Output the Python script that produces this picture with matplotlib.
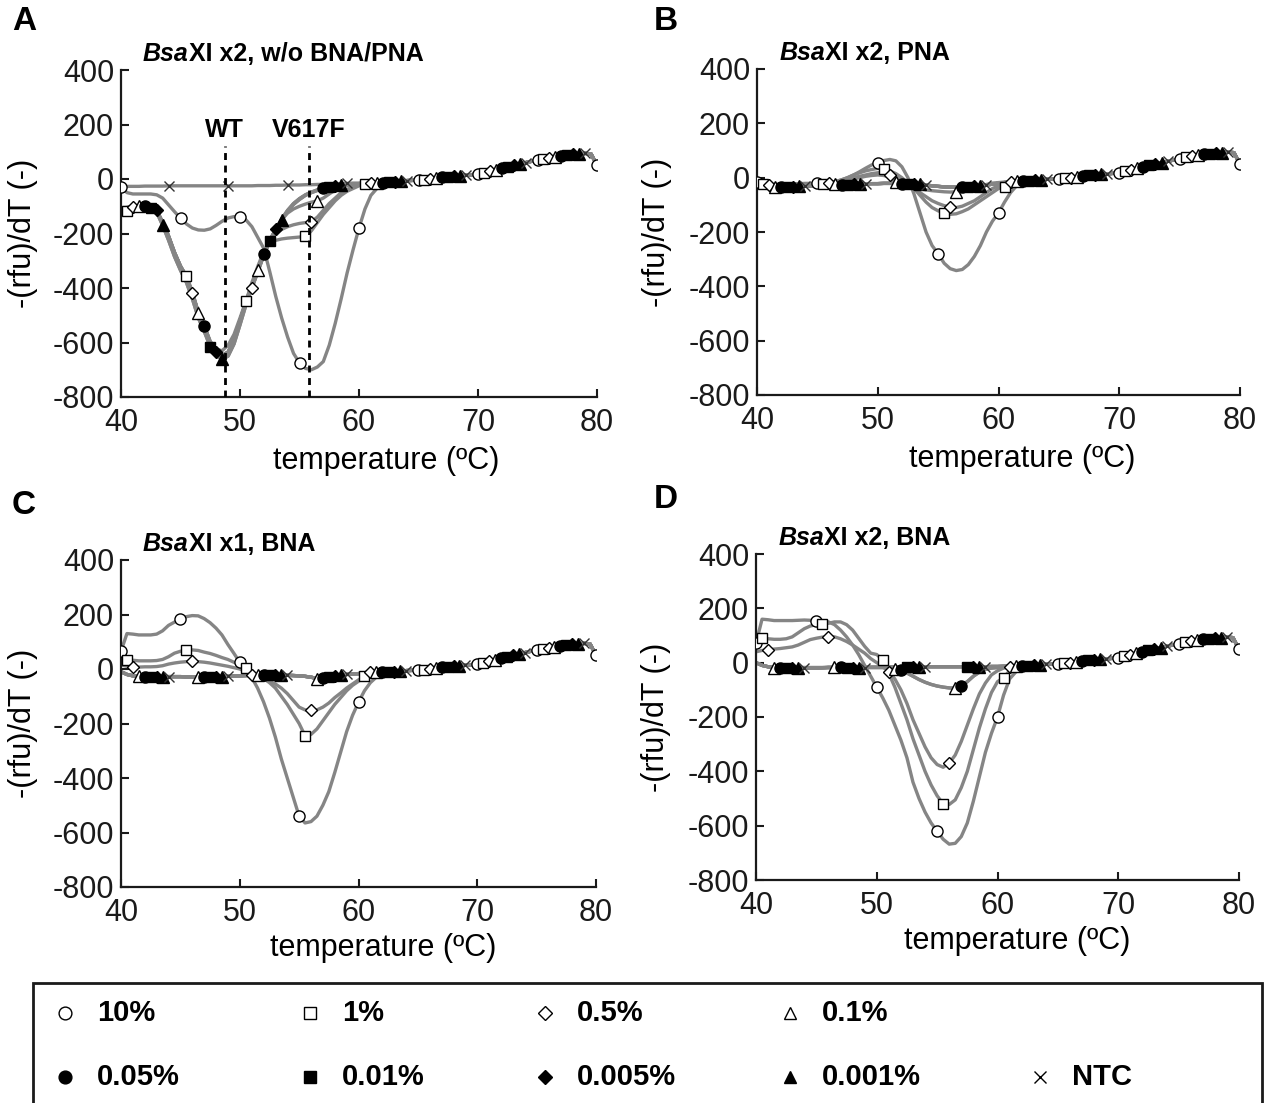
import numpy as np
import matplotlib
matplotlib.use("Agg")
import matplotlib.pyplot as plt
from matplotlib.lines import Line2D
from matplotlib.patches import Rectangle

plt.rcParams["font.family"] = ["Liberation Sans", "DejaVu Sans"]
plt.rcParams["axes.unicode_minus"] = False

# melting temperature grid, 0.5 degC steps
TEMP = np.arange(40, 80.01, 0.5)

LABELS = ["10%", "1%", "0.5%", "0.1%", "0.05%", "0.01%", "0.005%", "0.001%", "NTC"]

# common part of every curve, 62.5 .. 80 degC
TAIL = [-12, -10, -8, -6, -5, -4, -2, 0, 3, 6,
        8, 10, 12, 14, 16, 19, 23, 28, 34, 40,
        45, 50, 55, 60, 65, 70, 75, 78, 82, 86,
        88, 90, 92, 94, 92, 50]

# --- A: BsaXI x2, w/o BNA/PNA (40 .. 62 degC) ---
A_10 = [-28, -50, -55, -55, -55, -55, -58, -70, -95, -120,
        -144, -165, -180, -187, -188, -183, -170, -155, -143, -138,
        -140, -150, -175, -215, -255, -340, -430, -510, -580, -640,
        -675, -695, -700, -690, -670, -610, -530, -440, -345, -260,
        -180, -110, -60, -35, -20] + TAIL
A_1 = [-117, -117, -115, -112, -108, -106, -115, -160, -210, -270,
       -320, -355, -415, -490, -540, -595, -625, -630, -610, -570,
       -510, -448, -380, -320, -265, -235, -225, -220, -217, -215,
       -213, -211, -190, -160, -130, -105, -80, -60, -45, -35,
       -25, -20, -17, -15, -13] + TAIL
A_05 = [-105, -104, -104, -103, -102, -103, -115, -160, -210, -270,
        -320, -360, -420, -490, -540, -600, -635, -645, -635, -590,
        -520, -450, -400, -340, -280, -230, -200, -185, -175, -168,
        -163, -160, -157, -140, -115, -90, -70, -50, -38, -30,
        -22, -18, -16, -14, -13] + TAIL
A_01 = [-110, -105, -102, -100, -100, -102, -115, -160, -210, -270,
        -320, -360, -420, -490, -540, -600, -635, -650, -635, -590,
        -520, -450, -390, -335, -275, -225, -185, -150, -125, -110,
        -100, -92, -85, -80, -70, -55, -40, -30, -24, -20,
        -17, -16, -15, -14, -13] + TAIL
A_LOW = [-110, -105, -102, -100, -100, -102, -115, -160, -210, -270,
         -320, -360, -420, -490, -540, -600, -635, -650, -635, -590,
         -520, -450, -390, -335, -275, -225, -185, -147, -115, -90,
         -72, -58, -48, -40, -34, -29, -25, -22, -20, -18,
         -17, -16, -15, -14, -13] + TAIL
A_LOW2 = [-112, -108, -105, -104, -104, -106, -122, -170, -225, -285,
          -335, -380, -440, -510, -560, -615, -648, -662, -650, -605,
          -535, -462, -398, -340, -278, -228, -188, -150, -118, -93,
          -75, -60, -50, -42, -35, -30, -26, -23, -21, -19,
          -17, -16, -15, -14, -13] + TAIL
A_NTC = [-28, -27, -27, -27, -26, -26, -26, -26, -25, -25,
         -25, -25, -25, -25, -25, -25, -25, -25, -25, -25,
         -25, -25, -25, -24, -24, -24, -23, -23, -22, -22,
         -22, -21, -21, -20, -20, -19, -18, -17, -16, -15,
         -15, -14, -14, -13, -13] + TAIL

# --- B: BsaXI x2, PNA ---
B_10 = [-15, -22, -25, -25, -24, -23, -22, -22, -21, -21,
        -21, -20, -18, -14, -8, 0, 10, 22, 35, 47,
        55, 63, 67, 62, 40, 0, -60, -130, -200, -250,
        -280, -315, -335, -342, -338, -320, -290, -250, -200, -160,
        -130, -90, -55, -30, -18] + TAIL
B_1 = [-20, -22, -28, -30, -30, -30, -30, -29, -28, -27,
       -25, -23, -20, -15, -8, 0, 10, 18, 25, 30,
       34, 32, 25, 15, 0, -20, -40, -65, -90, -110,
       -122, -131, -135, -133, -125, -115, -100, -85, -70, -55,
       -40, -33, -25, -20, -15] + TAIL
B_05 = [-20, -24, -28, -30, -30, -30, -29, -28, -27, -26,
        -25, -24, -20, -15, -10, -5, 0, 5, 10, 15,
        18, 20, 10, 0, -10, -25, -40, -55, -70, -85,
        -95, -103, -108, -110, -105, -95, -85, -70, -55, -40,
        -30, -20, -15, -13, -12] + TAIL
B_01 = [-22, -28, -32, -33, -33, -33, -32, -31, -30, -29,
        -28, -27, -25, -22, -18, -12, -5, 0, 5, 8,
        10, 8, 2, -15, -22, -28, -35, -40, -45, -48,
        -50, -52, -53, -52, -50, -45, -38, -30, -25, -20,
        -18, -16, -14, -13, -12] + TAIL
B_LOW = [-22, -28, -33, -34, -34, -34, -33, -32, -31, -30,
         -29, -28, -27, -27, -26, -26, -25, -24, -23, -22,
         -22, -21, -21, -21, -22, -22, -23, -25, -27, -30,
         -32, -34, -35, -35, -35, -34, -32, -30, -27, -24,
         -21, -18, -16, -14, -12] + TAIL

# --- C: BsaXI x1, BNA ---
C_10 = [65, 130, 128, 125, 125, 125, 128, 140, 160, 172,
        182, 192, 196, 195, 185, 170, 150, 125, 90, 58,
        25, -5, -30, -70, -120, -180, -250, -330, -400, -470,
        -540, -565, -560, -540, -500, -450, -380, -305, -230, -170,
        -122, -80, -50, -30, -20] + TAIL
C_1 = [40, 34, 32, 30, 30, 30, 31, 35, 45, 58,
       65, 69, 70, 68, 62, 57, 50, 42, 35, 25,
       15, 4, -15, -25, -35, -50, -70, -100, -130, -165,
       -200, -245, -240, -220, -190, -160, -130, -105, -80, -60,
       -45, -27, -22, -18, -15] + TAIL
C_05 = [15, 10, 7, 7, 8, 8, 9, 12, 18, 22,
        25, 27, 28, 27, 25, 22, 18, 14, 10, 5,
        0, -10, -23, -30, -35, -45, -55, -70, -90, -115,
        -140, -150, -152, -150, -140, -125, -105, -88, -70, -55,
        -40, -28, -10, -10, -10] + TAIL
C_LOW = [-10, -20, -25, -27, -28, -28, -28, -28, -28, -28,
         -28, -29, -30, -30, -30, -30, -29, -28, -27, -26,
         -25, -24, -23, -22, -22, -22, -22, -22, -23, -24,
         -25, -27, -30, -35, -32, -28, -25, -22, -20, -18,
         -17, -15, -13, -12, -12] + TAIL

# --- D: BsaXI x2, BNA ---
D_10 = [71, 160, 158, 155, 155, 155, 155, 156, 157, 156,
        153, 155, 150, 140, 120, 95, 65, 30, -10, -50,
        -90, -130, -175, -230, -285, -350, -440, -500, -550, -590,
        -620, -650, -668, -665, -640, -590, -510, -420, -330, -260,
        -200, -120, -60, -35, -20] + TAIL
D_1 = [85, 90, 88, 86, 86, 88, 95, 110, 125, 135,
       140, 141, 145, 150, 150, 140, 120, 90, 60, 35,
       30, 10, -40, -90, -150, -210, -280, -340, -400, -450,
       -490, -520, -522, -505, -460, -400, -320, -240, -170, -110,
       -70, -55, -30, -20, -15] + TAIL
D_05 = [40, 45, 47, 50, 52, 55, 58, 65, 75, 85,
        90, 94, 96, 95, 88, 78, 65, 50, 35, 15,
        0, -15, -33, -60, -100, -150, -210, -260, -310, -350,
        -375, -385, -370, -340, -290, -230, -170, -115, -75, -45,
        -30, -20, -15, -13, -12] + TAIL
D_MID = [0, -10, -15, -18, -18, -18, -18, -18, -18, -18,
         -18, -18, -17, -17, -17, -17, -17, -17, -17, -18,
         -18, -18, -19, -22, -28, -38, -50, -62, -72, -80,
         -86, -90, -93, -94, -85, -70, -50, -35, -25, -20,
         -18, -16, -14, -13, -12] + TAIL
D_LOW = [0, -10, -15, -18, -20, -21, -21, -21, -20, -20,
         -20, -19, -18, -18, -18, -18, -18, -18, -18, -17,
         -17, -16, -16, -15, -15, -15, -15, -15, -15, -15,
         -15, -15, -15, -15, -15, -15, -15, -15, -15, -14,
         -14, -13, -13, -12, -12] + TAIL

PANELS = [
    ("A", "XI x2, w/o BNA/PNA", [A_10, A_1, A_05, A_01, A_LOW, A_LOW2, A_LOW, A_LOW2, A_NTC]),
    ("B", "XI x2, PNA", [B_10, B_1, B_05, B_01, B_LOW, B_LOW, B_LOW, B_LOW, B_LOW]),
    ("C", "XI x1, BNA", [C_10, C_1, C_05, C_LOW, C_LOW, C_LOW, C_LOW, C_LOW, C_LOW]),
    ("D", "XI x2, BNA", [D_10, D_1, D_05, D_MID, D_MID, D_LOW, D_LOW, D_LOW, D_LOW]),
]

# WT / V617F melting peaks marked in panel A
PEAKS = [("WT", 48.7), ("V617F", 55.8)]

# marker style per series: (marker, face, size)
MARKERS = [("o", "white", 8), ("s", "white", 7.5), ("D", "white", 6.5), ("^", "white", 8),
           ("o", "black", 8), ("s", "black", 7.5), ("D", "black", 6.5), ("^", "black", 8),
           ("x", "none", 7)]

LINE_GREY = "#858585"

# axes rectangles in pixels (left, top, right, bottom) of a 1270x1103 figure
W, H = 1270, 1103
BOXES = {"A": (121, 70, 597, 397), "B": (757, 69, 1240, 395),
         "C": (121, 560, 596, 887), "D": (756, 554, 1239, 880)}
LETTER_POS = {"A": (12, 22), "B": (654, 22), "C": (12, 505), "D": (654, 500)}
XLABEL_POS = {"A": (0.557, -0.15), "B": (0.55, -0.15), "C": (0.553, -0.14), "D": (0.54, -0.142)}

fig = plt.figure(figsize=(W / 100, H / 100), dpi=100)

for letter, title_rest, series in PANELS:
    l, t, r, b = BOXES[letter]
    ax = fig.add_axes([l / W, 1 - b / H, (r - l) / W, (b - t) / H])

    for y in series:
        ax.plot(TEMP, y, color=LINE_GREY, lw=2.4, zorder=2, solid_capstyle="round")
    for k, y in enumerate(series):
        m, face, ms = MARKERS[k]
        ax.plot(TEMP, y, linestyle="none", marker=m, markersize=ms,
                markerfacecolor=face, markeredgecolor="black" if m != "x" else "#333333",
                markeredgewidth=1.0, markevery=(k, 10), zorder=3 + k * 0.01)

    if letter == "A":
        for name, tm in PEAKS:
            ax.plot([tm, tm], [-800, 120], color="black", lw=2, ls=(0, (2.5, 2)), zorder=4)
            ax.text(tm, 135, name, ha="center", va="bottom", fontsize=18, fontweight="bold")

    ax.set_xlim(40, 80)
    ax.set_ylim(-800, 400)
    ax.set_xticks([40, 50, 60, 70, 80])
    ax.set_yticks(range(-800, 401, 200))
    for side in ("top", "right"):
        ax.spines[side].set_visible(False)
    for side in ("left", "bottom"):
        ax.spines[side].set_linewidth(1.6)
        ax.spines[side].set_color("#1a1a1a")
    ax.tick_params(direction="in", length=6, width=1.5, labelsize=22, colors="#1a1a1a")
    ax.tick_params(axis="x", pad=8)
    ax.tick_params(axis="y", pad=5)

    ax.set_xlabel("temperature (ºC)", fontsize=22)
    ax.xaxis.set_label_coords(*XLABEL_POS[letter])
    ax.set_ylabel("-(rfu)/dT (-)", fontsize=22)
    ax.yaxis.set_label_coords(-0.175, 0.5)

    # title: italic enzyme prefix followed by bold text
    t1 = ax.text(0.046, 1.012, "Bsa", transform=ax.transAxes, fontsize=18,
                 fontweight="bold", fontstyle="italic", va="bottom", ha="left")
    ax.annotate(title_rest, xy=(1, 0), xycoords=t1, va="bottom", ha="left",
                fontsize=18, fontweight="bold")

    lx, ly = LETTER_POS[letter]
    fig.text(lx / W, 1 - ly / H, letter, fontsize=24, fontweight="bold", va="center", ha="left")

# legend box along the bottom (bottom edge runs off the figure)
fig.add_artist(Rectangle((33 / W, -0.02), 1229 / W, 0.02 + 1 - 983 / H,
                         transform=fig.transFigure, fill=False,
                         edgecolor="#1a1a1a", linewidth=2))
LEG_COLS = [65, 310, 545, 790, 1040]
LEG_ROWS = [1013, 1077]
slots = [(0, 0), (0, 1), (0, 2), (0, 3), (1, 0), (1, 1), (1, 2), (1, 3), (1, 4)]
for k, (row, col) in enumerate(slots):
    m, face, ms = MARKERS[k]
    x, y = LEG_COLS[col] / W, 1 - LEG_ROWS[row] / H
    fig.add_artist(Line2D([x], [y], transform=fig.transFigure, linestyle="none",
                          marker=m, markersize=ms * 1.15, markerfacecolor=face,
                          markeredgecolor="black", markeredgewidth=1.0))
    fig.text(x + 32 / W, y, LABELS[k], fontsize=21, fontweight="bold",
             va="center", ha="left")

fig.savefig("out.png", dpi=100)
